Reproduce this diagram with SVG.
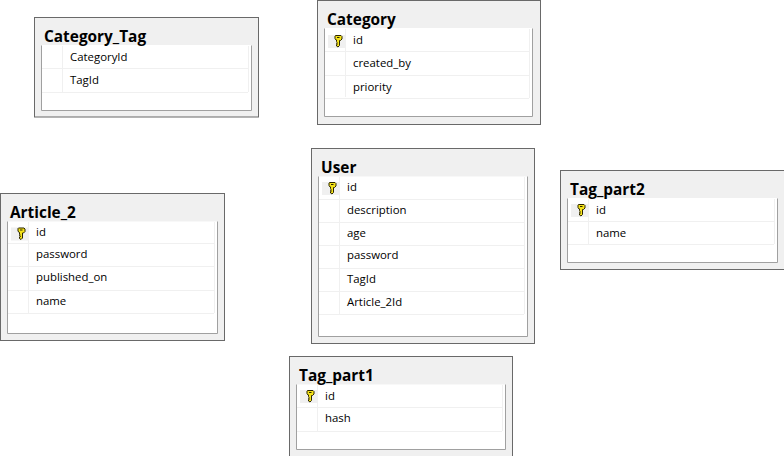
<svg xmlns="http://www.w3.org/2000/svg" width="784" height="456" viewBox="0 0 784 456">
<style>
.o{fill:#f0f0f0;stroke:#696969;stroke-width:1}
.i{fill:#fff;stroke:#a0a0a0;stroke-width:1}
.s{stroke:#f0f0f0;stroke-width:1;fill:none}
.k{fill:#f0f0f0}
.t{font:bold 15.4px "Open Sans","Noto Sans",sans-serif;fill:#000}
.f{font:11.4px "Open Sans","Noto Sans",sans-serif;fill:#000;transform:translateY(-.7px)}
</style>
<defs>
<g id="key"><rect x="-10.500" y="-6" width="17" height="13" class="k"/><path d="M-3-5.500h5.500l1 1v2.500l-1.500 1.500h-1v5l-1.500 1.500-1.500-1v-1.500l1-.5-1-.5 .5-1-.5-1v-1.500h-.5l-1-1.500v-2.500z" fill="#f4e21a" stroke="#2a2400" stroke-width="1"/><rect x="-1.500" y="-4" width="2.500" height="1" fill="#2a2400"/></g>
</defs>
<g id="connectors"></g>
<g id="Category_Tag" transform="translate(34 17)">
<rect class="o" x=".5" y=".5" width="224" height="99.500"/>
<path class="i" d="M7.500 28.500V93.500H217.500V28.500"/>
<rect x="8" y="28" width="209" height="65" fill="#fff"/>
<path class="s" d="M8 51.500H214M8 75.500H214M28.500 29V75M214.500 29V75"/>
<text class="t" x="10" y="25">Category_Tag</text>
<text class="f" x="36" y="44.500">CategoryId</text>
<text class="f" x="36" y="67.500">TagId</text>
</g>
<g id="Category" transform="translate(317 0)">
<rect class="o" x=".5" y=".5" width="223" height="124"/>
<path class="i" d="M7.500 28.500V116.500H215.500V28.500"/>
<rect x="8" y="28" width="207" height="88" fill="#fff"/>
<path class="s" d="M8 51.500H212M8 75.500H212M8 98.500H212M28.500 29V97M212.500 29V98"/>
<use href="#key" x="21.500" y="41"/>
<text class="t" x="10" y="25">Category</text>
<text class="f" x="36" y="44.500">id</text>
<text class="f" x="36" y="67.500">created_by</text>
<text class="f" x="36" y="91.500">priority</text>
</g>
<g id="User" transform="translate(311 148)">
<rect class="o" x=".5" y=".5" width="223" height="195"/>
<path class="i" d="M7.500 28.500V188.500H216.500V28.500"/>
<rect x="8" y="29" width="208" height="159" fill="#fff"/>
<path class="s" d="M8 51.500H213M8 74.500H213M8 97.500H213M8 120.500H213M8 143.500H213M8 166.500H213M28.500 29V166M213.500 29V166"/>
<use href="#key" x="21.500" y="40"/>
<text class="t" x="10" y="25">User</text>
<text class="f" x="36" y="44">id</text>
<text class="f" x="36" y="67">description</text>
<text class="f" x="36" y="90">age</text>
<text class="f" x="36" y="112">password</text>
<text class="f" x="36" y="136">TagId</text>
<text class="f" x="36" y="159">Article_2Id</text>
</g>
<g id="Tag_part2" transform="translate(560 170)">
<rect class="o" x=".5" y=".5" width="224" height="99"/>
<path class="i" d="M7.500 28.500V92.500H217.500V28.500"/>
<rect x="8" y="28" width="209" height="64" fill="#fff"/>
<path class="s" d="M8 51.500H214M8 74.500H214M28.500 29V74M214.500 29V74"/>
<use href="#key" x="21.500" y="40"/>
<text class="t" x="10" y="25">Tag_part2</text>
<text class="f" x="36" y="44.500">id</text>
<text class="f" x="36" y="67.500">name</text>
</g>
<g id="Article_2" transform="translate(0 193)">
<rect class="o" x=".5" y=".5" width="224" height="147"/>
<path class="i" d="M7.500 28.500V140.500H217.500V28.500"/>
<rect x="8" y="29" width="209" height="111" fill="#fff"/>
<path class="s" d="M8 50.500H214M8 73.500H214M8 97.500H214M8 120.500H214M28.500 29V120M214.500 29V120"/>
<use href="#key" x="21.500" y="40.500"/>
<text class="t" x="10" y="25">Article_2</text>
<text class="f" x="36" y="44">id</text>
<text class="f" x="36" y="66">password</text>
<text class="f" x="36" y="89">published_on</text>
<text class="f" x="36" y="113">name</text>
</g>
<g id="Tag_part1" transform="translate(289 356)">
<rect class="o" x=".5" y=".5" width="223" height="100"/>
<path class="i" d="M7.500 28.500V93.500H216.500V28.500"/>
<rect x="8" y="29" width="208" height="64" fill="#fff"/>
<path class="s" d="M8 51.500H213M8 75.500H213M28.500 29V75M213.500 29V75"/>
<use href="#key" x="21.500" y="40"/>
<text class="t" x="10" y="25">Tag_part1</text>
<text class="f" x="36" y="44.500">id</text>
<text class="f" x="36" y="67">hash</text>
</g>
</svg>
